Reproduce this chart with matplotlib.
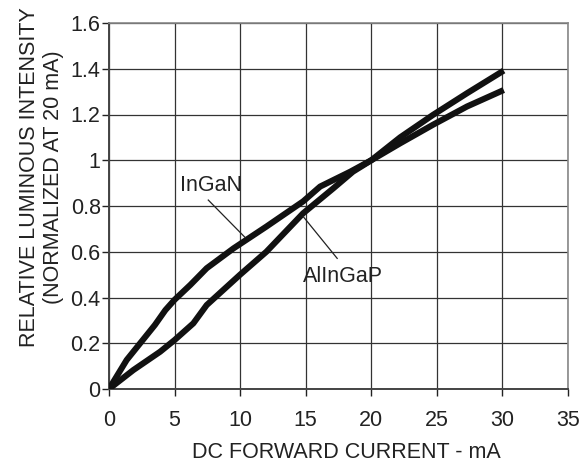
import matplotlib
matplotlib.use("Agg")
import matplotlib.pyplot as plt

ingan_x = [0, 1.35, 3.5, 4.3, 5.0, 6.2, 7.45, 9.5, 12.0, 14.8, 16.1, 18.4, 20.0, 22.2, 24.7, 27.3, 30.1]
ingan_y = [0, 0.127, 0.28, 0.345, 0.39, 0.455, 0.528, 0.615, 0.71, 0.82, 0.885, 0.95, 1.0, 1.074, 1.155, 1.235, 1.307]

alingap_x = [0, 1.86, 3.9, 5.0, 6.43, 7.45, 10.0, 12.0, 14.8, 17.1, 18.6, 20.0, 22.2, 24.7, 27.3, 30.1]
alingap_y = [0, 0.083, 0.163, 0.214, 0.287, 0.367, 0.5, 0.6, 0.768, 0.877, 0.95, 1.0, 1.10, 1.198, 1.293, 1.392]

x_ticks = [0, 5, 10, 15, 20, 25, 30, 35]
y_ticks = [0, 0.2, 0.4, 0.6, 0.8, 1.0, 1.2, 1.4, 1.6]
y_tick_labels = ["0", "0.2", "0.4", "0.6", "0.8", "1", "1.2", "1.4", "1.6"]

plt.rcParams['font.family'] = ['Liberation Sans', 'DejaVu Sans']

fig = plt.figure(figsize=(5.87, 4.66), dpi=100)
W, H = 587, 466
ax = fig.add_axes([109 / W, 1 - 389 / H, (568 - 109) / W, (389 - 23) / H])

ax.set_xlim(0, 35)
ax.set_ylim(0, 1.6)
ax.set_xticks(x_ticks)
ax.set_yticks(y_ticks)
ax.set_yticklabels(y_tick_labels)
ax.grid(True, color='#333333', linewidth=0.9)
ax.set_axisbelow(True)

ax.plot(ingan_x, ingan_y, color='#111111', linewidth=4.4, solid_capstyle='butt', zorder=3)
ax.plot(alingap_x, alingap_y, color='#111111', linewidth=4.4, solid_capstyle='butt', zorder=3)

for s in ['top', 'right']:
    ax.spines[s].set_color('#888888')
    ax.spines[s].set_linewidth(1.2)
for s in ['left', 'bottom']:
    ax.spines[s].set_color('#444444')
    ax.spines[s].set_linewidth(1.4)

ax.tick_params(axis='both', labelsize=15.5, colors='#222222', length=5, width=1)
ax.tick_params(axis='x', pad=10)
ax.tick_params(axis='y', pad=1)

ax.set_xlabel("DC FORWARD CURRENT - mA", fontsize=15.5, color='#222222')
ax.xaxis.set_label_coords(0.518, -0.145)
ax.set_ylabel("RELATIVE LUMINOUS INTENSITY\n(NORMALIZED AT 20 mA)", fontsize=15.5,
              color='#222222', linespacing=1.2)
ax.yaxis.set_label_coords(-0.097, 0.58)

ax.text(5.45, 0.89, "InGaN", fontsize=15.5, color='#222222', va='center', ha='left')
ax.plot([7.57, 10.37], [0.826, 0.663], color='#222222', linewidth=0.9, zorder=4)
ax.text(14.8, 0.49, "AlInGaP", fontsize=15.5, color='#222222', va='center', ha='left')
ax.plot([14.82, 17.4], [0.753, 0.571], color='#222222', linewidth=0.9, zorder=4)

fig.savefig("out.png", dpi=100)
